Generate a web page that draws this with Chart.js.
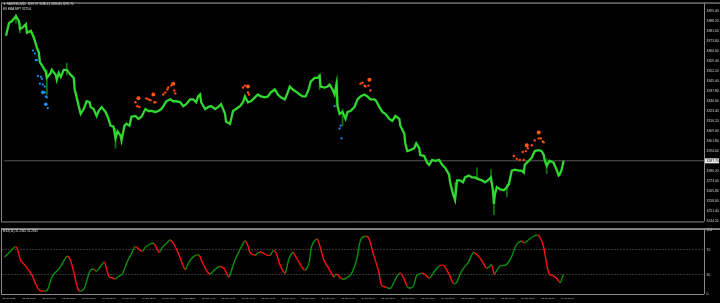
<!DOCTYPE html>
<html>
<head>
<meta charset="utf-8">
<script src="https://cdn.jsdelivr.net/npm/chart.js@4.4.1/dist/chart.umd.min.js"></script>
<style>
  html, body { margin:0; padding:0; background:#000; }
  #wrap { position:relative; width:720px; height:303px; background:#000; overflow:hidden; }
  #mainChart { position:absolute; left:0; top:0; }
  #subChart { position:absolute; left:0; top:226px; }
  .lbl { position:absolute; color:#e0e0e0; font-family:"Liberation Sans", sans-serif; font-size:3px; white-space:pre; line-height:4px; }
</style>
</head>
<body>
<div id="wrap">
  <canvas id="mainChart" width="720" height="226"></canvas>
  <canvas id="subChart" width="720" height="77"></canvas>
  <div class="lbl" style="left:3px;top:2px">&#9660; XAUUSD,M15  3287.97 3288.41 3286.80 3287.70</div>
  <div class="lbl" style="left:3px;top:7px">ES EMA MPT 3275.6</div>
  <div class="lbl" style="left:3px;top:229px">RSX(14) 31.2945 31.2945</div>
</div>
<script>
// price (M15 closes), x = bar number
var priceBars = [2,5,8,12,15,16,18,22,23,27, 30,33,35,36,38,42,43,47,48,52,
  53,55,57,60,63,67,70,71,73,75, 77,80,83,86,87,90,93,95,98,102,
  105,107,110,112,114,117,118,121,123,126, 128,132,135,138,142,145,148,152,155,158,
  160,163,167,170,173,177,180,183,187,190, 193,195,197,198,202,205,208,212,215,218,
  222,223,227,230,233,237,240,242,245,248, 252,255,258,262,265,268,272,275,278,282,
  285,287,290,293,297,300,303,306,308,312, 315,317,318,322,325,327,330,332,334,335,
  337,340,343,345,348,352,355,358,362,365, 368,372,374,377,380,383,387,390,393,397,
  398,402,403,405,408,412,414,417,418,422, 425,427,430,433,437,440,443,447,448,451,
  453,455,458,461,463,467,470,473,477,480, 483,487,489,491,492,493,495,498,502,505,
  507,508,510,513,517,520,522,523,527,530, 533,537,540,542,543,545,548,552,555,557,
  558,560,562];
var priceClose = [3377.8,3386.9,3388.4,3391.9,3388.4,3382.7,3383.4,3386.2,3379.9,3381.3, 3376.4,3369.3,3365.8,3358.8,3356.7,3351.7,3347.5,3351.0,3353.2,3349.6,
  3346.1,3351.0,3348.2,3353.2,3353.2,3349.6,3347.5,3339.1,3333.4,3327.1, 3321.5,3325.0,3330.6,3329.9,3326.4,3325.0,3320.0,3323.6,3326.4,3322.9,
  3317.9,3313.0,3312.3,3303.9,3308.8,3306.0,3302.4,3313.0,3314.4,3313.0, 3319.4,3320.0,3317.9,3319.4,3325.0,3323.6,3323.6,3322.9,3323.6,3325.0,
  3327.1,3330.6,3332.0,3330.6,3330.6,3329.9,3327.1,3328.5,3332.0,3332.0, 3329.9,3334.1,3335.5,3329.9,3325.0,3326.4,3327.1,3325.0,3326.4,3328.5,
  3321.5,3315.8,3314.4,3323.6,3325.0,3327.1,3329.9,3334.1,3329.9,3330.6, 3333.4,3335.5,3334.1,3333.4,3334.1,3337.0,3339.1,3335.5,3333.4,3332.0,
  3337.0,3341.2,3339.1,3337.7,3335.5,3334.1,3334.1,3339.1,3344.7,3347.5, 3347.5,3348.9,3341.2,3340.5,3341.2,3342.6,3339.1,3335.5,3343.3,3327.1,
  3321.5,3322.9,3317.9,3322.9,3323.6,3326.4,3332.0,3334.1,3335.5,3334.1, 3332.0,3332.0,3330.6,3326.4,3322.9,3321.5,3317.9,3316.5,3320.0,3317.9,
  3313.0,3307.4,3300.3,3294.7,3295.4,3296.8,3300.3,3296.8,3291.9,3291.2, 3286.3,3284.8,3288.4,3287.7,3288.4,3284.8,3282.7,3277.8,3272.2,3263.7,
  3259.5,3273.6,3273.6,3272.2,3275.7,3277.1,3275.7,3275.7,3274.3,3273.6, 3272.2,3274.3,3275.7,3266.5,3256.7,3263.7,3268.7,3267.2,3266.5,3268.7,
  3270.8,3274.3,3280.6,3281.3,3280.6,3280.6,3279.2,3284.8,3287.7,3289.8, 3294.7,3295.4,3294.7,3291.9,3288.4,3284.1,3287.7,3286.3,3281.3,3277.1,
  3277.8,3281.3,3287.7];

// long shadows
var wickBars = [12,16,43,63,112,317,334,340,453,475,489,492,505,545];
var wickLow  = [3386.9,3379.9,3335.5,3349.6,3296.8,3339.1,3327.1,3313.0,3258.1,3274.3,3272.2,3248.9,3261.6,3278.5];
var wickHigh = [3393.3,3386.9,3353.2,3358.1,3310.9,3350.3,3344.0,3325.0,3272.2,3282.7,3281.3,3266.5,3270.8,3289.1];

// indicator dots
var orangeBars = [132,134,136,143,145,147,151,152,160,162, 164,165,168,171,172,240,242,245,246,358, 360,362,363,366,368,512,515,518,522,521, 524,526,530,533,537,539,541,542];
var orangeVals = [3329.9,3327.1,3326.4,3332.7,3332.0,3331.3,3329.9,3329.9,3335.5,3337.0, 3339.1,3340.5,3341.9,3338.4,3336.3,3340.5,3341.9,3337.0,3335.5,3343.3,
  3344.0,3341.9,3341.2,3341.9,3338.4,3291.2,3289.1,3288.4,3288.4,3294.0, 3294.7,3296.8,3298.9,3302.4,3303.9,3303.9,3301.7,3301.0];
var orangeBigBars = [135,150,170,245,367,525,537];
var orangeBigVals = [3332.7,3335.5,3343.3,3341.2,3346.1,3298.9,3308.1];
var blueBars = [29,31,32,33,34,37,38,36,39,41, 41,42,43,44,332,338,337,339];
var blueVals = [3367.2,3365.1,3360.2,3360.2,3348.9,3348.2,3346.8,3343.3,3342.6,3341.2, 3337.0,3334.1,3333.4,3325.7,3327.1,3313.0,3310.9,3303.9];
var blueBigBars = [39,42];
var blueBigVals = [3337.0,3328.5];

var priceTicks = [3395.40,3388.20,3381.00,3373.80,3366.60,3359.40,3352.20,3345.00,3337.80,3330.60,
  3323.40,3316.20,3309.00,3301.80,3294.60,3287.40,3280.20,3273.00,3265.80,3258.60,3251.40,3244.20];

// oscillator
var oscBars = [2,7,13,15,18,22,27,30,33,37, 42,45,50,57,62,65,68,72,75,78, 82,85,88,92,94,97,102,104,107,110,
  113,117,120,125,130,133,137,140,143,148, 152,155,157,160,165,168,172,177,183,187, 192,197,200,205,208,213,218,222,225,227,
  233,238,243,246,248,253,257,260,265,268, 272,275,278,283,287,291,293,298,303,307, 310,315,318,322,327,332,334,337,340,345,
  350,355,358,360,364,367,372,377,380,385, 389,393,398,402,405,408,412,415,420,423, 428,433,438,442,447,452,455,460,467,472,
  475,480,485,488,490,492,493,498,505,510, 515,520,523,527,532,536,538,542,545,548, 552,555,559,562];
var oscVals = [58.2,65.7,74.6,70.1,53.7,46.3,35.8,28.4,16.4,6.0, 4.5,6.0,28.4,40.3,53.7,59.7,53.7,31.3,10.4,4.5,
  9.0,23.9,37.3,38.8,35.8,40.3,50.7,40.3,26.9,25.4, 23.9,28.4,31.3,50.7,65.7,74.6,70.1,67.2,73.1,79.1,
  79.1,70.1,65.7,73.1,80.6,85.1,77.6,61.2,38.8,50.7, 59.7,61.2,50.7,35.8,31.3,38.8,43.3,40.3,31.3,26.9,
  53.7,70.1,83.6,76.1,65.7,61.2,65.7,65.7,61.2,61.2, 68.7,61.2,46.3,32.8,55.2,65.7,61.2,47.8,37.3,47.8,
  76.1,86.6,76.1,53.7,40.3,26.9,31.3,28.4,23.9,25.4, 32.8,55.2,80.6,88.1,91.0,88.1,61.2,35.8,13.4,10.4,
  9.0,20.9,32.8,25.4,13.4,9.0,13.4,28.4,32.8,31.3, 25.4,35.8,44.8,44.8,32.8,16.4,17.9,35.8,50.7,65.7,
  62.7,53.7,40.3,43.3,46.3,35.8,31.3,43.3,46.3,58.2, 77.6,83.6,80.6,85.1,91.0,92.5,91.0,76.1,50.7,31.3,
  28.4,25.4,17.9,31.3];
// g = up buffer, r = down buffer
var oscDir = "gggrrrrrrr" + "rgggggrrrr" + "ggggrggrrr" + "rgggggrrgg" + "grrgggrrrg" + "ggrrrggrrr" +
  "gggrrrgrrr" + "grrrggrrrg" + "ggrrrrgrrg" + "gggggrrrrr" + "gggrrggggr" + "rggrrrgggg" +
  "rrrggrrggg" + "ggrgggrrrr" + "rrrg";
var oscLevels = [0, 30, 70, 100];

var timeLabels = ["23 Jun 2025","23 Jun 05:00","23 Jun 10:00","23 Jun 15:00","23 Jun 20:00","24 Jun 02:00",
  "24 Jun 07:00","24 Jun 12:00","24 Jun 17:00","24 Jun 22:00","25 Jun 04:00","25 Jun 09:00","25 Jun 14:00",
  "25 Jun 19:00","26 Jun 01:00","26 Jun 06:00","26 Jun 11:00","26 Jun 16:00","26 Jun 21:00","27 Jun 03:00",
  "27 Jun 08:00","27 Jun 13:00","27 Jun 18:00","27 Jun 23:00","30 Jun 05:00","30 Jun 10:00","30 Jun 15:00",
  "30 Jun 20:00","01 Jul 02:00"];

function pts(xs, ys) { return xs.map((x, i) => ({x: x, y: ys[i]})); }
var lastClose = priceClose[priceClose.length - 1];
var priceFont = {family: 'Liberation Sans', size: 3.4};
var timeFont = {family: 'Liberation Sans', size: 2.3};

var frame = {
  id: 'frame',
  afterDraw(chart) {
    const a = chart.chartArea, c = chart.ctx;
    c.save();
    c.strokeStyle = '#8a8a8a';
    c.lineWidth = 1;
    c.beginPath();
    c.moveTo(1.5, a.top - 1); c.lineTo(1.5, a.bottom);
    c.moveTo(a.right + 0.5, a.top - 1); c.lineTo(a.right + 0.5, a.bottom);
    c.stroke();
    c.strokeStyle = '#aaaaaa';
    c.lineWidth = chart.canvas.id == 'mainChart' ? 1 : 1.5;
    c.beginPath();
    c.moveTo(1, a.top - 1.5); c.lineTo(chart.width, a.top - 1.5);
    c.stroke();
    c.strokeStyle = '#8a8a8a';
    c.lineWidth = 1;
    c.beginPath();
    c.moveTo(1, a.bottom + 0.5); c.lineTo(a.right, a.bottom + 0.5);
    c.stroke();
    if (chart.canvas.id == 'mainChart') {
      const y = chart.scales.y.getPixelForValue(lastClose);
      c.fillStyle = '#f0f0f0';
      c.fillRect(a.right + 1, y - 2.5, 14, 5);
      c.fillStyle = '#000';
      c.font = '3.4px "Liberation Sans"';
      c.textBaseline = 'middle';
      c.fillText(lastClose.toFixed(2), a.right + 2.5, y + 0.2);
    }
    c.restore();
  }
};

new Chart(document.getElementById('mainChart'), {
  type: 'line',
  data: {
    datasets: [
      { type: 'bar', data: wickBars.map((x, i) => ({x: x, y: [wickLow[i], wickHigh[i]]})),
        backgroundColor: '#0f7a0f', barThickness: 1, grouped: false, order: 3 },
      { data: pts(priceBars, priceClose), borderColor: '#30d830', borderWidth: 2.3,
        pointRadius: 0, tension: 0, order: 2 },
      { data: [{x: 0, y: lastClose}, {x: 703, y: lastClose}], borderColor: '#5a5a5a',
        borderWidth: 1, pointRadius: 0, order: 4 },
      { type: 'scatter', data: pts(orangeBars, orangeVals), backgroundColor: '#ff4a10',
        borderWidth: 0, pointRadius: 1.2, order: 1 },
      { type: 'scatter', data: pts(orangeBigBars, orangeBigVals), backgroundColor: '#ff5a10',
        borderWidth: 0, pointRadius: 2, order: 1 },
      { type: 'scatter', data: pts(blueBars, blueVals), backgroundColor: '#1e8fff',
        borderWidth: 0, pointRadius: 1.1, order: 1 },
      { type: 'scatter', data: pts(blueBigBars, blueBigVals), backgroundColor: '#1e8fff',
        borderWidth: 0, pointRadius: 1.8, order: 1 }
    ]
  },
  options: {
    responsive: false, animation: false, devicePixelRatio: 1,
    layout: { padding: {left: 2, top: 3, right: 0, bottom: 1} },
    plugins: { legend: {display: false}, tooltip: {enabled: false} },
    scales: {
      x: { type: 'linear', min: 0, max: 703, offset: false, display: false },
      y: {
        position: 'right', min: 3244.0, max: 3400.3,
        afterFit: s => { s.width = 16; },
        afterBuildTicks: s => { s.ticks = priceTicks.map(v => ({value: v})); },
        grid: {display: false, drawTicks: false}, border: {display: false},
        ticks: { color: '#d8d8d8', font: priceFont, padding: 2.5, autoSkip: false,
                 callback: v => Number(v).toFixed(2) }
      }
    }
  },
  plugins: [frame]
});

new Chart(document.getElementById('subChart'), {
  type: 'line',
  data: {
    datasets: [{
      data: pts(oscBars, oscVals), borderWidth: 1.4, pointRadius: 0, tension: 0.3,
      borderColor: '#0a8f0a',
      segment: { borderColor: ctx => oscDir[ctx.p1DataIndex] == 'g' ? '#0a8f0a' : '#ff1010' }
    }]
  },
  options: {
    responsive: false, animation: false, devicePixelRatio: 1,
    layout: { padding: {left: 2, top: 1, right: 0, bottom: 0} },
    plugins: { legend: {display: false}, tooltip: {enabled: false} },
    scales: {
      x: {
        type: 'linear', min: 0, max: 703,
        afterFit: s => { s.height = 9; },
        afterBuildTicks: s => { s.ticks = timeLabels.map((t, i) => ({value: i * 20})); },
        grid: {display: false, drawTicks: false}, border: {display: false},
        ticks: { color: '#d0d0d0', font: timeFont, padding: 2.5, align: 'start', maxRotation: 0,
                 autoSkip: false, callback: (v, i) => timeLabels[i] }
      },
      y: {
        position: 'right', min: 0, max: 100,
        afterFit: s => { s.width = 16; },
        afterBuildTicks: s => { s.ticks = oscLevels.map(v => ({value: v})); },
        grid: { drawTicks: false, lineWidth: 1,
                color: c => (c.tick && (c.tick.value == 30 || c.tick.value == 70)) ? '#6a6a6a' : 'rgba(0,0,0,0)' },
        border: {display: false, dash: [1, 2]},
        ticks: { color: '#d8d8d8', font: priceFont, padding: 2.5, autoSkip: false }
      }
    }
  },
  plugins: [frame]
});
</script>
</body>
</html>
